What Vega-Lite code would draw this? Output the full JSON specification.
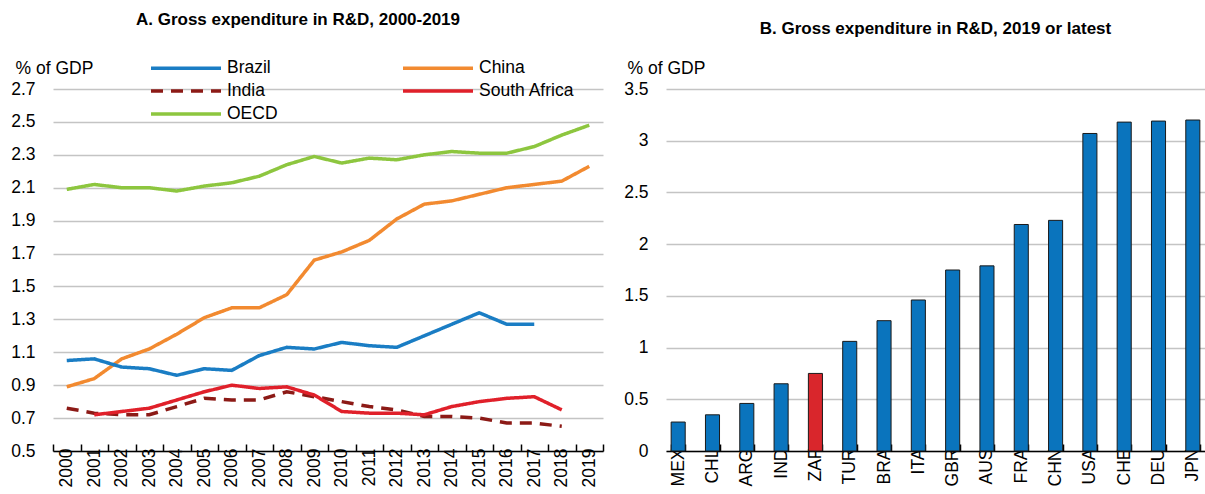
{
  "$schema": "https://vega.github.io/schema/vega-lite/v6.json",
  "padding": {"left": 10, "top": 11, "right": 0, "bottom": 0},
  "background": "white",
  "bounds": "flush",
  "spacing": 63,
  "config": {
    "view": {"stroke": null},
    "font": "Liberation Sans, Arial",
    "axis": {
      "labelFont": "Liberation Sans, Arial",
      "titleFont": "Liberation Sans, Arial",
      "labelColor": "#000000",
      "titleColor": "#000000",
      "labelFontSize": 17.5,
      "titleFontSize": 17.5,
      "titleFontWeight": "normal"
    },
    "title": {"font": "Liberation Sans, Arial", "fontSize": 17, "fontWeight": "bold", "color": "#000000"}
  },
  "datasets": {
    "lines": [
      {"series": "OECD", "year": "2000", "value": 2.09},
      {"series": "OECD", "year": "2001", "value": 2.12},
      {"series": "OECD", "year": "2002", "value": 2.10},
      {"series": "OECD", "year": "2003", "value": 2.10},
      {"series": "OECD", "year": "2004", "value": 2.08},
      {"series": "OECD", "year": "2005", "value": 2.11},
      {"series": "OECD", "year": "2006", "value": 2.13},
      {"series": "OECD", "year": "2007", "value": 2.17},
      {"series": "OECD", "year": "2008", "value": 2.24},
      {"series": "OECD", "year": "2009", "value": 2.29},
      {"series": "OECD", "year": "2010", "value": 2.25},
      {"series": "OECD", "year": "2011", "value": 2.28},
      {"series": "OECD", "year": "2012", "value": 2.27},
      {"series": "OECD", "year": "2013", "value": 2.30},
      {"series": "OECD", "year": "2014", "value": 2.32},
      {"series": "OECD", "year": "2015", "value": 2.31},
      {"series": "OECD", "year": "2016", "value": 2.31},
      {"series": "OECD", "year": "2017", "value": 2.35},
      {"series": "OECD", "year": "2018", "value": 2.42},
      {"series": "OECD", "year": "2019", "value": 2.48},
      {"series": "China", "year": "2000", "value": 0.89},
      {"series": "China", "year": "2001", "value": 0.94},
      {"series": "China", "year": "2002", "value": 1.06},
      {"series": "China", "year": "2003", "value": 1.12},
      {"series": "China", "year": "2004", "value": 1.21},
      {"series": "China", "year": "2005", "value": 1.31},
      {"series": "China", "year": "2006", "value": 1.37},
      {"series": "China", "year": "2007", "value": 1.37},
      {"series": "China", "year": "2008", "value": 1.45},
      {"series": "China", "year": "2009", "value": 1.66},
      {"series": "China", "year": "2010", "value": 1.71},
      {"series": "China", "year": "2011", "value": 1.78},
      {"series": "China", "year": "2012", "value": 1.91},
      {"series": "China", "year": "2013", "value": 2.00},
      {"series": "China", "year": "2014", "value": 2.02},
      {"series": "China", "year": "2015", "value": 2.06},
      {"series": "China", "year": "2016", "value": 2.10},
      {"series": "China", "year": "2017", "value": 2.12},
      {"series": "China", "year": "2018", "value": 2.14},
      {"series": "China", "year": "2019", "value": 2.23},
      {"series": "Brazil", "year": "2000", "value": 1.05},
      {"series": "Brazil", "year": "2001", "value": 1.06},
      {"series": "Brazil", "year": "2002", "value": 1.01},
      {"series": "Brazil", "year": "2003", "value": 1.00},
      {"series": "Brazil", "year": "2004", "value": 0.96},
      {"series": "Brazil", "year": "2005", "value": 1.00},
      {"series": "Brazil", "year": "2006", "value": 0.99},
      {"series": "Brazil", "year": "2007", "value": 1.08},
      {"series": "Brazil", "year": "2008", "value": 1.13},
      {"series": "Brazil", "year": "2009", "value": 1.12},
      {"series": "Brazil", "year": "2010", "value": 1.16},
      {"series": "Brazil", "year": "2011", "value": 1.14},
      {"series": "Brazil", "year": "2012", "value": 1.13},
      {"series": "Brazil", "year": "2013", "value": 1.20},
      {"series": "Brazil", "year": "2014", "value": 1.27},
      {"series": "Brazil", "year": "2015", "value": 1.34},
      {"series": "Brazil", "year": "2016", "value": 1.27},
      {"series": "Brazil", "year": "2017", "value": 1.27},
      {"series": "India", "year": "2000", "value": 0.76},
      {"series": "India", "year": "2001", "value": 0.73},
      {"series": "India", "year": "2002", "value": 0.72},
      {"series": "India", "year": "2003", "value": 0.72},
      {"series": "India", "year": "2004", "value": 0.77},
      {"series": "India", "year": "2005", "value": 0.82},
      {"series": "India", "year": "2006", "value": 0.81},
      {"series": "India", "year": "2007", "value": 0.81},
      {"series": "India", "year": "2008", "value": 0.86},
      {"series": "India", "year": "2009", "value": 0.83},
      {"series": "India", "year": "2010", "value": 0.80},
      {"series": "India", "year": "2011", "value": 0.77},
      {"series": "India", "year": "2012", "value": 0.75},
      {"series": "India", "year": "2013", "value": 0.71},
      {"series": "India", "year": "2014", "value": 0.71},
      {"series": "India", "year": "2015", "value": 0.70},
      {"series": "India", "year": "2016", "value": 0.67},
      {"series": "India", "year": "2017", "value": 0.67},
      {"series": "India", "year": "2018", "value": 0.65},
      {"series": "South Africa", "year": "2001", "value": 0.72},
      {"series": "South Africa", "year": "2002", "value": 0.74},
      {"series": "South Africa", "year": "2003", "value": 0.76},
      {"series": "South Africa", "year": "2004", "value": 0.81},
      {"series": "South Africa", "year": "2005", "value": 0.86},
      {"series": "South Africa", "year": "2006", "value": 0.90},
      {"series": "South Africa", "year": "2007", "value": 0.88},
      {"series": "South Africa", "year": "2008", "value": 0.89},
      {"series": "South Africa", "year": "2009", "value": 0.84},
      {"series": "South Africa", "year": "2010", "value": 0.74},
      {"series": "South Africa", "year": "2011", "value": 0.73},
      {"series": "South Africa", "year": "2012", "value": 0.73},
      {"series": "South Africa", "year": "2013", "value": 0.72},
      {"series": "South Africa", "year": "2014", "value": 0.77},
      {"series": "South Africa", "year": "2015", "value": 0.80},
      {"series": "South Africa", "year": "2016", "value": 0.82},
      {"series": "South Africa", "year": "2017", "value": 0.83},
      {"series": "South Africa", "year": "2018", "value": 0.75}
    ],
    "bars": [
      {"country": "MEX", "value": 0.28},
      {"country": "CHL", "value": 0.35},
      {"country": "ARG", "value": 0.46},
      {"country": "IND", "value": 0.65},
      {"country": "ZAF", "value": 0.75},
      {"country": "TUR", "value": 1.06},
      {"country": "BRA", "value": 1.26},
      {"country": "ITA", "value": 1.46},
      {"country": "GBR", "value": 1.75},
      {"country": "AUS", "value": 1.79},
      {"country": "FRA", "value": 2.19},
      {"country": "CHN", "value": 2.23},
      {"country": "USA", "value": 3.07},
      {"country": "CHE", "value": 3.18},
      {"country": "DEU", "value": 3.19},
      {"country": "JPN", "value": 3.20}
    ]
  },
  "hconcat": [
    {
      "width": 550,
      "height": 362,
      "title": {"text": "A. Gross expenditure in R&D, 2000-2019", "anchor": "middle", "offset": 30, "dx": -30},
      "data": {"name": "lines"},
      "mark": {"type": "line", "strokeWidth": 3.5},
      "encoding": {
        "x": {
          "field": "year",
          "type": "ordinal",
          "bandPosition": 0.5,
          "scale": {"type": "band", "paddingInner": 0, "paddingOuter": 0},
          "axis": {
            "title": null,
            "labelAngle": -90,
            "labelPadding": 4,
            "tickBand": "extent",
            "tickSize": -7,
            "tickColor": "#000000",
            "tickWidth": 1.5,
            "domainColor": "#000000",
            "domainWidth": 1.5
          }
        },
        "y": {
          "field": "value",
          "type": "quantitative",
          "scale": {"domain": [0.5, 2.7], "nice": false, "zero": false},
          "axis": {
            "title": "% of GDP",
            "titleAngle": 0,
            "titleAlign": "left",
            "titleBaseline": "alphabetic",
            "titleX": -38,
            "titleY": -16,
            "values": [0.5, 0.7, 0.9, 1.1, 1.3, 1.5, 1.7, 1.9, 2.1, 2.3, 2.5, 2.7],
            "format": ".1f",
            "domain": false,
            "ticks": false,
            "labelPadding": 18,
            "gridColor": "#c4c4c4",
            "gridWidth": 1.5
          }
        },
        "color": {
          "field": "series",
          "type": "nominal",
          "scale": {
            "domain": ["Brazil", "China", "India", "South Africa", "OECD"],
            "range": ["#1a7dc4", "#f28a30", "#8c1a16", "#e0202a", "#8dc63f"]
          },
          "legend": {
            "title": null,
            "orient": "none",
            "direction": "horizontal",
            "legendX": 124,
            "legendY": -30,
            "columns": 2,
            "gridAlign": "each",
            "columnPadding": 118,
            "rowPadding": 5,
            "symbolType": "M-5,0H5",
            "symbolSize": 196,
            "symbolStrokeWidth": 3.5,
            "labelFontSize": 17.5,
            "labelFont": "Liberation Sans, Arial",
            "labelColor": "#000000",
            "labelOffset": 32
          }
        },
        "strokeDash": {
          "field": "series",
          "type": "nominal",
          "scale": {
            "domain": ["Brazil", "China", "India", "South Africa", "OECD"],
            "range": [[1, 0], [1, 0], [12, 8], [1, 0], [1, 0]]
          },
          "legend": {
            "title": null,
            "orient": "none",
            "direction": "horizontal",
            "legendX": 124,
            "legendY": -30,
            "columns": 2,
            "gridAlign": "each",
            "columnPadding": 118,
            "rowPadding": 5,
            "symbolType": "M-5,0H5",
            "symbolSize": 196,
            "symbolStrokeWidth": 3.5,
            "labelFontSize": 17.5,
            "labelFont": "Liberation Sans, Arial",
            "labelColor": "#000000",
            "labelOffset": 32
          }
        }
      }
    },
    {
      "width": 539,
      "height": 362,
      "title": {"text": "B. Gross expenditure in R&D, 2019 or latest", "anchor": "middle", "offset": 21},
      "data": {"name": "bars"},
      "mark": {"type": "bar", "stroke": "#1a1a1a", "strokeWidth": 1},
      "encoding": {
        "x": {
          "field": "country",
          "type": "nominal",
          "sort": null,
          "scale": {"paddingInner": 0.59, "paddingOuter": 0.15},
          "axis": {
            "title": null,
            "labelAngle": -90,
            "labelPadding": 4,
            "tickBand": "extent",
            "tickSize": -7,
            "tickColor": "#000000",
            "tickWidth": 1.5,
            "domainColor": "#000000",
            "domainWidth": 1.5
          }
        },
        "y": {
          "field": "value",
          "type": "quantitative",
          "scale": {"domain": [0, 3.5], "nice": false},
          "axis": {
            "title": "% of GDP",
            "titleAngle": 0,
            "titleAlign": "left",
            "titleBaseline": "alphabetic",
            "titleX": -39,
            "titleY": -16,
            "values": [0, 0.5, 1, 1.5, 2, 2.5, 3, 3.5],
            "format": "~g",
            "domain": false,
            "ticks": false,
            "labelPadding": 18,
            "gridColor": "#c4c4c4",
            "gridWidth": 1.5
          }
        },
        "color": {
          "condition": {"test": "datum.country === 'ZAF'", "value": "#d9262c"},
          "value": "#0a74bd"
        }
      }
    }
  ]
}
